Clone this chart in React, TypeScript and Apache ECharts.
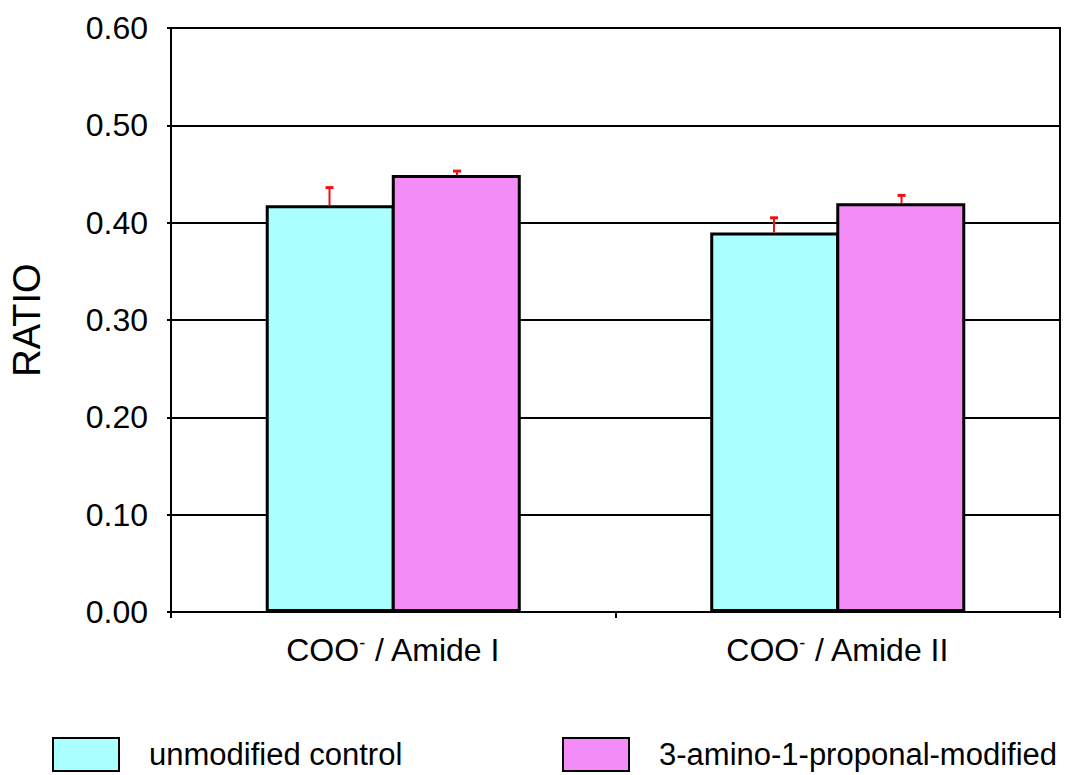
import React, { useEffect, useRef } from "react";
import * as echarts from "echarts";

const categories = ["COO{sup|-} / Amide I", "COO{sup|-} / Amide II"];
const seriesNames = ["unmodified control", "3-amino-1-proponal-modified"];
const controlValues = [0.418, 0.39];
const modifiedValues = [0.449, 0.42];
const controlErrors = [0.018, 0.015];
const modifiedErrors = [0.004, 0.008];
const yTicks = [0, 0.1, 0.2, 0.3, 0.4, 0.5, 0.6];

const FONT = "'Liberation Sans', Arial, sans-serif";
const COLORS = ["#aaffff", "#f48cf8"];
const BAR_PX = 129;

function errorSeries(values: number[], errors: number[], sideSign: number) {
  return {
    type: "custom",
    silent: true,
    z: 5,
    data: values.map((v, i) => [i, v, v + errors[i]]),
    renderItem: (params: any, api: any) => {
      const idx = api.value(0);
      const off = (sideSign * (BAR_PX - 1.5)) / 2;
      const low = api.coord([idx, api.value(1)]);
      const high = api.coord([idx, api.value(2)]);
      const x = low[0] + off;
      return {
        type: "group",
        children: [
          { type: "line", shape: { x1: x, y1: low[1], x2: x, y2: high[1] }, style: { stroke: "#ee1111", lineWidth: 2 } },
          { type: "line", shape: { x1: x - 4, y1: high[1], x2: x + 4, y2: high[1] }, style: { stroke: "#ee1111", lineWidth: 3 } },
        ],
      };
    },
  };
}

export default function App() {
  const ref = useRef<HTMLDivElement>(null);
  useEffect(() => {
    const chart = echarts.init(ref.current!, null, { renderer: "svg" });
    const legendCommon = {
      top: 732,
      itemWidth: 66,
      itemHeight: 33,
      icon: "rect",
      textStyle: { fontFamily: FONT, fontSize: 31, color: "#000", padding: [0, 0, 0, 25] },
    };
    chart.setOption({
      animation: false,
      backgroundColor: "#fff",
      textStyle: { fontFamily: FONT },
      grid: { left: 167, right: 24, top: 28, bottom: 163, show: true, borderColor: "#000", borderWidth: 2, backgroundColor: "transparent" },
      legend: [
        { ...legendCommon, left: 47, data: [{ name: seriesNames[0], itemStyle: { color: COLORS[0], borderColor: "#000", borderWidth: 2 } }] },
        { ...legendCommon, left: 557, data: [{ name: seriesNames[1], itemStyle: { color: COLORS[1], borderColor: "#000", borderWidth: 2 } }] },
      ],
      xAxis: {
        type: "category",
        data: categories,
        axisLine: { lineStyle: { color: "#000", width: 2 } },
        axisTick: { show: true, length: 6, lineStyle: { color: "#000", width: 2 } },
        axisLabel: {
          margin: 22,
          color: "#000",
          fontSize: 32,
          fontFamily: FONT,
          rich: { sup: { fontSize: 18, verticalAlign: "top", padding: [0, 0, 14, 0], fontFamily: FONT, color: "#000" } },
        },
      },
      yAxis: {
        type: "value",
        min: 0,
        max: 0.6,
        interval: 0.1,
        name: "RATIO",
        nameLocation: "middle",
        nameRotate: 90,
        nameGap: 125,
        nameTextStyle: { fontFamily: FONT, fontSize: 38, color: "#000" },
        axisLine: { show: true, lineStyle: { color: "#000", width: 2 } },
        axisTick: { show: true, length: 4, lineStyle: { color: "#000", width: 2 } },
        axisLabel: {
          margin: 23,
          color: "#000",
          fontSize: 32,
          fontFamily: FONT,
          formatter: (v: number) => (yTicks.some((t) => Math.abs(t - v) < 1e-9) ? v.toFixed(2) : ""),
        },
        splitLine: { lineStyle: { color: "#000", width: 2 } },
      },
      series: [
        {
          name: seriesNames[0],
          type: "bar",
          data: controlValues,
          barWidth: BAR_PX,
          barGap: "-2.3%",
          itemStyle: { color: COLORS[0], borderColor: "#000", borderWidth: 3 },
        },
        {
          name: seriesNames[1],
          type: "bar",
          data: modifiedValues,
          barWidth: BAR_PX,
          barGap: "-2.3%",
          itemStyle: { color: COLORS[1], borderColor: "#000", borderWidth: 3 },
        },
        errorSeries(controlValues, controlErrors, -1),
        errorSeries(modifiedValues, modifiedErrors, 1),
      ],
    });
    return () => chart.dispose();
  }, []);
  return <div ref={ref} style={{ width: 1084, height: 775, position: "absolute", left: 0, top: 0 }} />;
}
